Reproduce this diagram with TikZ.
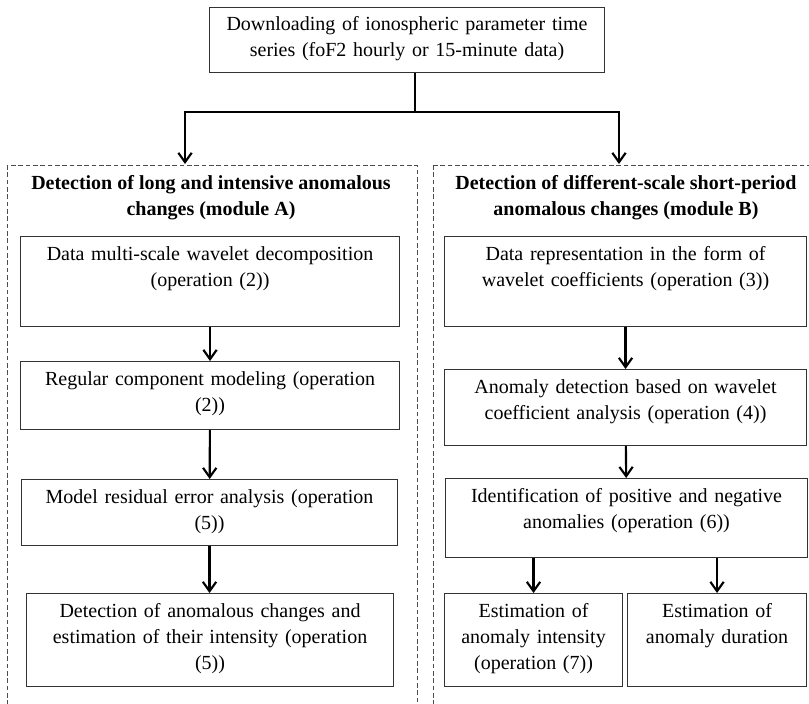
\documentclass[tikz,border=0pt]{standalone}
\usepackage{fontspec}
\setmainfont{Liberation Serif}
\usetikzlibrary{arrows.meta}

\begin{document}
\begin{tikzpicture}[x=0.75pt,y=-0.75pt,
    font=\fontsize{15}{19.5}\selectfont,
    box/.style={draw=black!80, line width=0.8pt, anchor=north west, align=center,
      inner sep=0pt, text height=17.6pt},
    frame/.style={draw=black!70, line width=0.75pt, dash pattern=on 3.5pt off 2pt},
    title/.style={font=\fontsize{15}{19.5}\selectfont\bfseries, align=center},
    arr/.style={line width=1.6pt, -{Straight Barb[length=7pt,width=10pt,line width=1.6pt]}}]
    \useasboundingbox (0,0) rectangle (809,703);
    \clip (0,0) rectangle (809,703);

    % module frames
    \draw[frame] (7,165) rectangle (417,720);
    \draw[frame] (433,165) rectangle (830,720);
    \node[title] (titleA) at (211,198) {Detection of long and intensive anomalous\\ changes (module A)};
    \node[title] (titleB) at (626,198) {Detection of different-scale short-period\\ anomalous changes (module B)};

    % top box
    \node[box, text width=296.25pt, text depth=31.1pt] (load) at (209,7)
      {Downloading of ionospheric parameter time\\ series (foF2 hourly or 15-minute data)};

    % module A boxes
    \node[box, text width=284.25pt, text depth=49.9pt] (a1) at (20,236)
      {Data multi-scale wavelet decomposition\\ (operation (2))};
    \node[box, text width=284.25pt, text depth=33.4pt] (a2) at (20,361)
      {Regular component modeling (operation\\ (2))};
    \node[box, text width=282pt, text depth=31.9pt] (a3) at (21,479)
      {Model residual error analysis (operation\\ (5))};
    \node[box, text width=275.25pt, text depth=52.1pt] (a4) at (26,593)
      {Detection of anomalous changes and\\ estimation of their intensity (operation\\ (5))};

    % module B boxes
    \node[box, text width=271.5pt, text depth=49.9pt] (b1) at (444,236)
      {Data representation in the form of\\ wavelet coefficients (operation (3))};
    \node[box, text width=271.5pt, text depth=39.4pt] (b2) at (444,369)
      {Anomaly detection based on wavelet\\ coefficient analysis (operation (4))};
    \node[box, text width=271.5pt, text depth=41.6pt] (b3) at (445,478)
      {Identification of positive and negative\\ anomalies (operation (6))};
    \node[box, text width=133.5pt, text depth=52.1pt] (b4) at (444,593)
      {Estimation of\\ anomaly intensity\\ (operation (7))};
    \node[box, text width=134.25pt, text depth=52.1pt] (b5) at (627,593)
      {Estimation of\\ anomaly duration};

    % split to the modules
    \coordinate (stem) at (415,112);
    \coordinate (inA) at (185,164);
    \coordinate (inB) at (619,164);
    \draw[line width=1.6pt] (stem |- load.south) -- (stem);
    \draw[arr] (stem) -| (inA);
    \draw[arr] (stem) -| (inB);

    % arrows
    \draw[arr] (a1) -- (a2);
    \draw[arr] (a2) -- (a3);
    \draw[arr] (a3.south) -- (a3.south |- a4.north);
    \draw[arr] (b1) -- (b2);
    \draw[arr] (b2) -- (b3);
    \draw[arr] (b3.south -| b4.north) -- (b4.north);
    \draw[arr] (b3.south -| b5.north) -- (b5.north);
\end{tikzpicture}
\end{document}
